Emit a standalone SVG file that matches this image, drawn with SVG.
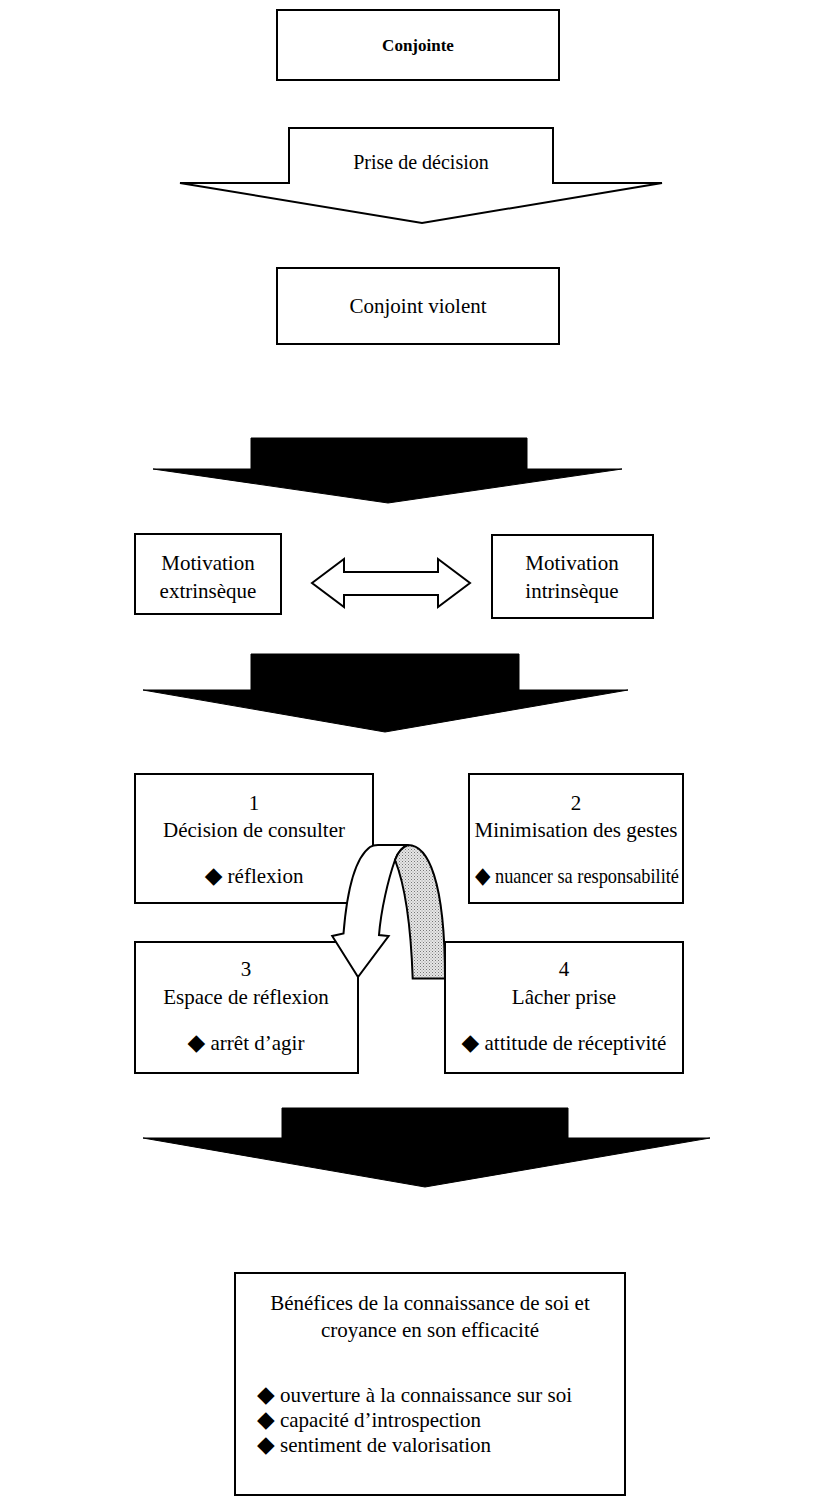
<svg xmlns="http://www.w3.org/2000/svg" width="819" height="1509" viewBox="0 0 819 1509">
<defs>
<pattern id="dots" width="3" height="3" patternUnits="userSpaceOnUse">
<rect width="3" height="3" fill="#e6e6e6"/>
<rect x="0" y="0" width="1" height="1" fill="#777"/>
<rect x="1.5" y="1.5" width="1" height="1" fill="#999"/>
</pattern>
</defs>
<style>
.box{fill:#fff;stroke:#000;stroke-width:2}
.t{font-family:"Liberation Serif","Times New Roman",serif;font-size:21px;fill:#000;text-anchor:middle}
.tl{font-family:"Liberation Serif","Times New Roman",serif;font-size:21px;fill:#000}
.b{font-weight:bold;font-size:17px}
.dia{font-family:"DejaVu Sans",sans-serif;font-size:23px}
.blk{fill:#000;stroke:#000;stroke-width:1}
.wht{fill:#fff;stroke:#000;stroke-width:2;stroke-linejoin:miter}
</style>
<rect width="819" height="1509" fill="#fff"/>
<g id="connectors">
<polygon class="wht" points="289,128 553,128 553,183 662,183 422,223 180,183 289,183"/>
<text class="t" x="421" y="169" style="font-size:20px">Prise de décision</text>
<polygon class="blk" points="251,438 527,438 527,469 622,469 388,503 153,469 251,469"/>
<polygon class="wht" points="312,583 344,559 344,572 438,572 438,559 470,583 438,607 438,595 344,595 344,607"/>
<polygon class="blk" points="251,654 519,654 519,690 628,690 385,732 143,690 251,690"/>
<polygon class="blk" points="282,1108 568,1108 568,1138 710,1138 425,1187 143,1138 282,1138"/>
</g>
<g id="n-conjointe">
<rect class="box" x="277" y="10" width="282" height="70"/>
<text class="t b" x="418" y="51">Conjointe</text>
</g>
<g id="n-conjoint-violent">
<rect class="box" x="277" y="268" width="282" height="76"/>
<text class="t" x="418" y="313">Conjoint violent</text>
</g>
<g id="n-extrinseque">
<rect class="box" x="135" y="534" width="146" height="80"/>
<text class="t" x="208" y="570">Motivation</text>
<text class="t" x="208" y="598">extrinsèque</text>
</g>
<g id="n-intrinseque">
<rect class="box" x="492" y="535" width="161" height="83"/>
<text class="t" x="572" y="570">Motivation</text>
<text class="t" x="572" y="598">intrinsèque</text>
</g>
<g id="n-1">
<rect class="box" x="135" y="774" width="238" height="129"/>
<text class="t" x="254" y="810">1</text>
<text class="t" x="254" y="837">Décision de consulter</text>
<text class="t" x="254" y="883"><tspan class="dia">◆</tspan> réflexion</text>
</g>
<g id="n-2">
<rect class="box" x="469" y="774" width="214" height="129"/>
<text class="t" x="576" y="810">2</text>
<text class="t" x="576" y="837">Minimisation des gestes</text>
<text class="tl" x="475" y="883" textLength="204" lengthAdjust="spacingAndGlyphs"><tspan class="dia">◆</tspan> nuancer sa responsabilité</text>
</g>
<g id="n-3">
<rect class="box" x="135" y="942" width="223" height="131"/>
<text class="t" x="246" y="976">3</text>
<text class="t" x="246" y="1004">Espace de réflexion</text>
<text class="t" x="246" y="1050"><tspan class="dia">◆</tspan> arrêt d’agir</text>
</g>
<g id="n-4">
<rect class="box" x="445" y="942" width="238" height="131"/>
<text class="t" x="564" y="976">4</text>
<text class="t" x="564" y="1004">Lâcher prise</text>
<text class="t" x="564" y="1050"><tspan class="dia">◆</tspan> attitude de réceptivité</text>
</g>
<g id="cycle-arrow">
<path class="wht" d="M343.5,933.5 C347,890 355,858 370,847 Q373,845 378,845 L408,845 C402,847 398,852 395,860 C388,880 381,910 379,935 L388.6,936 L358,977 L332.2,936 Z"/>
<path fill="url(#dots)" stroke="#000" stroke-width="2" d="M408,845 C428,845 445,880 445,978.6 L412.7,978.6 C411,930 405,885 395,860 C398,852 402,847 408,845 Z"/>
</g>
<g id="n-benefices">
<rect class="box" x="235" y="1273" width="390" height="222"/>
<text class="t" x="430" y="1310">Bénéfices de la connaissance de soi et</text>
<text class="t" x="430" y="1337">croyance en son efficacité</text>
<text class="tl" x="257" y="1402"><tspan class="dia">◆</tspan> ouverture à la connaissance sur soi</text>
<text class="tl" x="257" y="1427"><tspan class="dia">◆</tspan> capacité d’introspection</text>
<text class="tl" x="257" y="1452"><tspan class="dia">◆</tspan> sentiment de valorisation</text>
</g>
</svg>
